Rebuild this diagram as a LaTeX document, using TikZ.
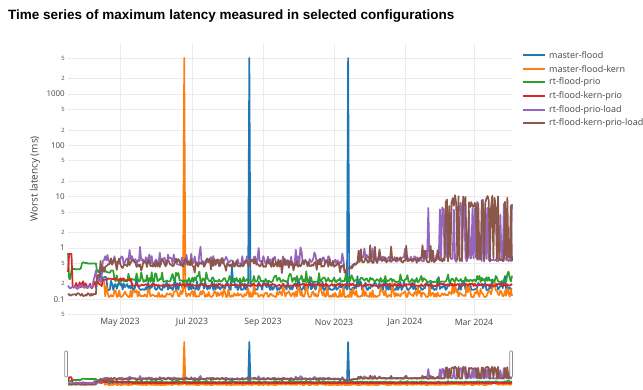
\documentclass[tikz,border=0pt]{standalone}
\usepackage{fontspec}
\setmainfont{Open Sans}
\newfontfamily\titlefont{Liberation Sans}
\definecolor{mflood}{HTML}{1F77B4}
\definecolor{mfloodkern}{HTML}{FF7F0E}
\definecolor{rtprio}{HTML}{2CA02C}
\definecolor{rtkernprio}{HTML}{D62728}
\definecolor{rtprioload}{HTML}{9467BD}
\definecolor{rtkernprioload}{HTML}{8C564B}
\definecolor{axistext}{HTML}{444444}
\definecolor{gridgray}{HTML}{EBEBEB}
\tikzset{
  series/.style={draw=#1, line width=1.7pt, line join=round},
  grid line/.style={draw=gridgray, line width=0.8pt},
  major label/.style={anchor=east, text=axistext, inner sep=1pt, font=\fontsize{8}{9}\selectfont},
  minor label/.style={anchor=east, text=axistext, inner sep=1pt, font=\fontsize{5.8}{6}\selectfont},
  date label/.style={text=axistext, inner sep=1pt, font=\fontsize{8.7}{10}\selectfont},
  legend text/.style={anchor=west, text=axistext, inner sep=0pt, font=\fontsize{9}{10}\selectfont},
  slider handle/.style={draw=black!45, fill=white, line width=0.8pt, rounded corners=0.8pt}
}
\newcommand{\allseries}{%
  \pgfmathsetseed{11}
  \draw[series=mflood] plot[domain=24:382, samples=359] ({68+1.1623*\x},{(abs(\x-156)<0.5 || abs(\x-241)<0.5) ? 58 : ((abs(\x-141)<0.5) ? 266 : ((abs(\x-376)<0.5) ? 276 : (\x<28 ? 270+3*rnd : (\x<34 ? 280-5*rnd : 290-9*rnd^2-(rnd<0.1 ? 5 : 0)))))});
  \pgfmathsetseed{12}
  \draw[series=mfloodkern] plot[domain=24:382, samples=359] ({68+1.1623*\x},{(abs(\x-100)<0.5) ? 58 : (\x<32 ? 283-4*rnd : 297-7*rnd^2-(rnd<0.1 ? 8 : 0))});
  \pgfmathsetseed{13}
  \draw[series=rtprio] plot[domain=0:382, samples=383] ({68+1.1623*\x},{\x<1 ? 253 : (\x<3 ? 279 : (\x<12 ? 271-3*rnd : (\x<25 ? 264-2*rnd : (\x<40 ? 273-3*rnd : 282-5*rnd^2-(rnd<0.12 ? 6 : 0)))))});
  \pgfmathsetseed{14}
  \draw[series=rtkernprio] plot[domain=0:382, samples=383] ({68+1.1623*\x},{\x<0.5 ? 272 : (\x<3.5 ? 254 : (\x<30 ? 288-7*rnd^2 : (\x<55 ? 281-3*rnd : 286-2.5*rnd^2)))});
  \pgfmathsetseed{15}
  \draw[series=rtprioload] plot[domain=0:382, samples=383] ({68+1.1623*\x},{(abs(\x-310)<0.5) ? 208 : (\x<22 ? 289-4*rnd : (\x<30 ? 286-16*rnd^2 : (\x<238 ? 265-9*rnd^1.5-(rnd<0.08 ? 10 : 0) : (\x<250 ? 272-0.8*(\x-238)-2*rnd : (\x<320 ? 262-6*rnd-(rnd<0.12 ? 10*rnd : 0) : (\x<362 ? (rnd<0.5 ? 199+14*rnd : 262-5*rnd) : (\x<372 ? 262-3*rnd : (rnd<0.4 ? 200+20*rnd : 262-4*rnd))))))))});
  \pgfmathsetseed{16}
  \draw[series=rtkernprioload] plot[domain=0:382, samples=383] ({68+1.1623*\x},{\x<25 ? 296-3*rnd : (\x<30 ? 282-24*rnd : (\x<238 ? 267-9*rnd^1.5+(rnd<0.08 ? 6 : 0) : (\x<250 ? 274-0.9*(\x-238)-3*rnd : (\x<322 ? 263-6*rnd-(rnd<0.12 ? 12 : 0) : (rnd<0.5 ? 195+14*rnd : 262-5*rnd)))))});
}
\begin{document}
\begin{tikzpicture}[x=1pt, y=-1pt]
\useasboundingbox (0,0) rectangle (643,389);
\node[anchor=west, inner sep=0pt, font=\titlefont\bfseries\fontsize{13.5}{16}\selectfont] (title) at (8,16) {Time series of maximum latency measured in selected configurations};
\foreach \px/\t [count=\k] in {120/May 2023, 192/Jul 2023, 263/Sep 2023, 334/Nov 2023, 405/Jan 2024, 474/Mar 2024} {
    \draw[grid line] (\px,44) -- (\px,316);
    \node[date label] (date\k) at (\px,322) {\t};
}
\foreach \e in {-2,...,3} {
    \foreach \m in {2,5} {
        \pgfmathsetmacro\yy{248-51.3*(\e+log10(\m))}
        \ifdim\yy pt<318pt
            \draw[grid line] (68,\yy) -- (512,\yy);
            \node[minor label] (minor\e\m) at (66,\yy) {\m};
        \fi
    }
}
\foreach \e in {-1,...,3} {
    \draw[grid line] (68,{248-51.3*\e}) -- (512,{248-51.3*\e});
    \node[major label] (major\e) at (66,{248-51.3*\e}) {\fpeval{10^(\e)}};
}
\node[rotate=90, text=axistext, font=\fontsize{10}{12}\selectfont] (ytitle) at (35,179) {Worst latency (ms)};
\allseries
\begin{scope}
    \clip (68,340) rectangle (512,389);
    \begin{scope}[cm={1,0,0,0.18,(0pt,-331.56pt)}]
        \allseries
    \end{scope}
\end{scope}
\draw[slider handle] (64.8,351) rectangle (67.4,377);
\draw[slider handle] (509.8,351) rectangle (512.4,377);
\foreach \c/\t/\ly [count=\k] in {mflood/master-flood/55, mfloodkern/master-flood-kern/69, rtprio/rt-flood-prio/82, rtkernprio/rt-flood-kern-prio/96, rtprioload/rt-flood-prio-load/110, rtkernprioload/rt-flood-kern-prio-load/123} {
    \draw[series=\c] (523,\ly) -- ++(22,0);
    \node[legend text] (legend\k) at (549,\ly) {\t};
}
\end{tikzpicture}
\end{document}
